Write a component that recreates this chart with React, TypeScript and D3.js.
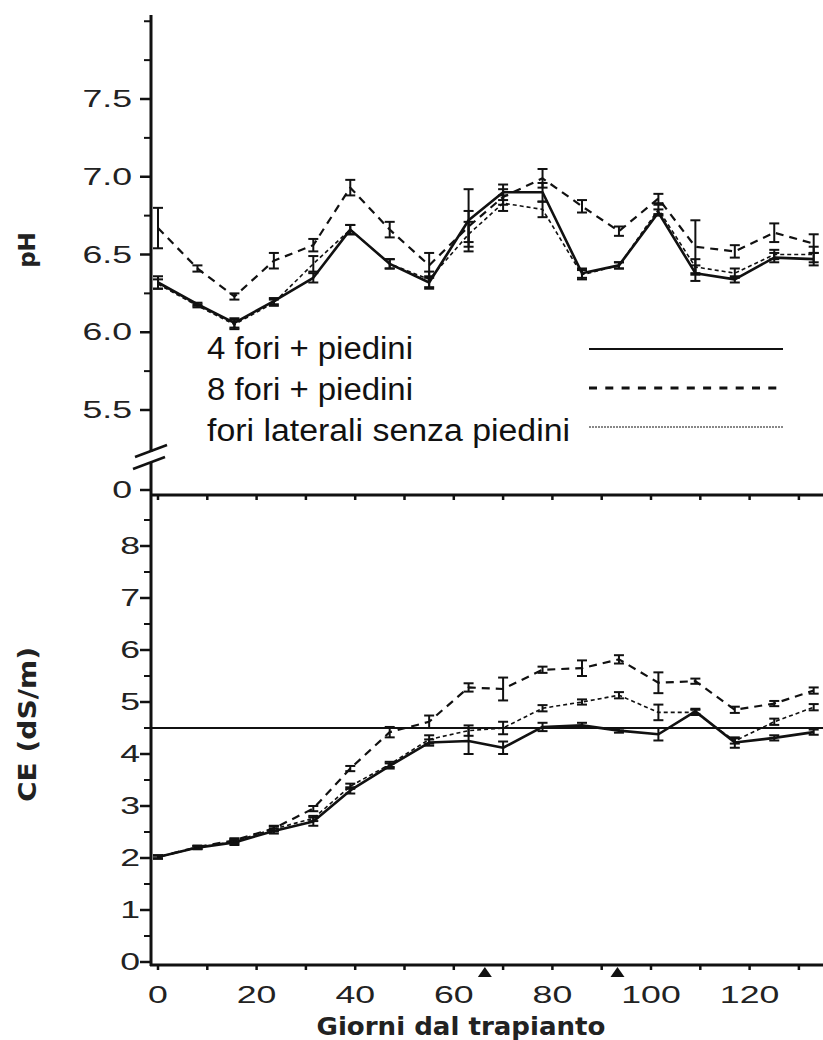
import React from 'react';
import * as d3 from 'd3';

// ---- data ----
const days = [0, 8, 15.5, 23.5, 31.5, 39, 47, 55, 63, 70, 78, 86, 93.5, 101.5, 109, 117, 125, 133];

const phFori4 = [6.32, 6.18, 6.06, 6.2, 6.35, 6.66, 6.44, 6.32, 6.72, 6.9, 6.9, 6.38, 6.43, 6.77, 6.38, 6.34, 6.48, 6.47];
const phFori4Err = [0.04, 0.01, 0.03, 0.02, 0.03, 0.03, 0.03, 0.04, 0.2, 0.05, 0.06, 0.03, 0.02, 0.02, 0.05, 0.02, 0.03, 0.04];
const phFori8 = [6.67, 6.41, 6.23, 6.46, 6.56, 6.93, 6.66, 6.43, 6.68, 6.87, 6.99, 6.81, 6.65, 6.86, 6.55, 6.52, 6.64, 6.57];
const phFori8Err = [0.13, 0.02, 0.02, 0.05, 0.04, 0.05, 0.05, 0.08, 0.1, 0.05, 0.06, 0.04, 0.03, 0.03, 0.17, 0.04, 0.06, 0.06];
const phLaterali = [6.31, 6.17, 6.05, 6.19, 6.44, 6.66, 6.44, 6.34, 6.63, 6.83, 6.79, 6.37, 6.43, 6.79, 6.42, 6.38, 6.5, 6.5];
const phLateraliErr = [0.03, 0.01, 0.03, 0.02, 0.05, 0.03, 0.03, 0.05, 0.08, 0.05, 0.05, 0.03, 0.02, 0.03, 0.05, 0.03, 0.03, 0.05];

const ceFori4 = [2.02, 2.2, 2.3, 2.52, 2.7, 3.3, 3.77, 4.22, 4.25, 4.12, 4.52, 4.55, 4.45, 4.38, 4.82, 4.22, 4.31, 4.42];
const ceFori4Err = [0.03, 0.03, 0.05, 0.05, 0.08, 0.06, 0.05, 0.06, 0.25, 0.12, 0.08, 0.05, 0.04, 0.12, 0.05, 0.1, 0.05, 0.05];
const ceFori8 = [2.02, 2.21, 2.34, 2.57, 2.95, 3.72, 4.42, 4.62, 5.28, 5.25, 5.62, 5.65, 5.82, 5.37, 5.4, 4.85, 4.97, 5.22];
const ceFori8Err = [0.03, 0.03, 0.04, 0.05, 0.05, 0.05, 0.1, 0.12, 0.08, 0.22, 0.06, 0.15, 0.08, 0.2, 0.05, 0.06, 0.05, 0.06];
const ceLaterali = [2.02, 2.2, 2.32, 2.56, 2.76, 3.38, 3.8, 4.28, 4.45, 4.5, 4.88, 5.0, 5.13, 4.8, 4.8, 4.25, 4.62, 4.9];
const ceLateraliErr = [0.03, 0.03, 0.04, 0.05, 0.05, 0.05, 0.05, 0.08, 0.1, 0.12, 0.06, 0.05, 0.06, 0.15, 0.05, 0.05, 0.06, 0.06];

const ceThreshold = 4.5;

const xTicks = [0, 20, 40, 60, 80, 100, 120];
const xMinorTicks = [10, 30, 50, 70, 90, 110, 130];
const phTicks = [5.5, 6.0, 6.5, 7.0, 7.5];
const phMinorTicks = [5.75, 6.25, 6.75, 7.25, 7.75, 8.0];
const ceTicks = [0, 1, 2, 3, 4, 5, 6, 7, 8];
const ceMinorTicks = [0.5, 1.5, 2.5, 3.5, 4.5, 5.5, 6.5, 7.5, 8.5];
const markerDays = [66.3, 93.2];

const legendLabels = ['4 fori + piedini', '8 fori + piedini', 'fori laterali senza piedini'];

const styles = [
  { width: 2.6, dash: 'none', legendWidth: 2, legendDash: 'none' },
  { width: 2.2, dash: '8,6', legendWidth: 3, legendDash: '8,8.3' },
  { width: 1.6, dash: '4,3', legendWidth: 1, legendDash: '2,1' },
];

const NUM_FONT = '"Liberation Sans", Arial, sans-serif';
const BOLD_FONT = '"DejaVu Sans", Verdana, sans-serif';

function Series({ vals, errs, x, y, style }: any) {
  const line = d3
    .line<number>()
    .x((_, i) => x(days[i]))
    .y((v) => y(v));
  return (
    <g>
      <path d={line(vals) || ''} fill="none" stroke="#111" strokeWidth={style.width} strokeDasharray={style.dash} strokeLinejoin="round" />
      {vals.map((v: number, i: number) => {
        const cx = x(days[i]);
        const y1 = y(v - errs[i]);
        const y2 = y(v + errs[i]);
        return (
          <g key={i} stroke="#111" strokeWidth={2}>
            <line x1={cx} x2={cx} y1={y1} y2={y2} />
            <line x1={cx - 5} x2={cx + 5} y1={y1} y2={y1} />
            <line x1={cx - 5} x2={cx + 5} y1={y2} y2={y2} />
          </g>
        );
      })}
    </g>
  );
}

function NumLabel({ x, y, text, anchor }: any) {
  return (
    <text
      transform={`translate(${x},${y}) scale(1.55,1)`}
      textAnchor={anchor}
      fontFamily={NUM_FONT}
      fontSize={23}
      fill="#222"
    >
      {text}
    </text>
  );
}

export default function App() {
  const W = 823;
  const H = 1040;
  const axisX = 151;
  const topPanelBottom = 495;
  const xAxisY = 965;

  const x = d3.scaleLinear().domain([0, 120]).range([158, 749.6]);
  const yPh = d3.scaleLinear().domain([5.5, 7.5]).range([410, 99]);
  const yCe = d3.scaleLinear().domain([0, 8]).range([962, 546]);

  const phSeries = [
    { vals: phFori4, errs: phFori4Err },
    { vals: phFori8, errs: phFori8Err },
    { vals: phLaterali, errs: phLateraliErr },
  ];
  const ceSeries = [
    { vals: ceFori4, errs: ceFori4Err },
    { vals: ceFori8, errs: ceFori8Err },
    { vals: ceLaterali, errs: ceLateraliErr },
  ];

  const legendBaselines = [359, 400, 441];
  const legendLineY = [349, 388, 427];
  const legendTextLen = [206, 206, 363];

  return (
    <svg width={W} height={H} style={{ position: 'absolute', left: 0, top: 0, background: '#fff' }}>
      <rect x={0} y={0} width={W} height={H} fill="#fff" />

      {/* Y axis line */}
      <line x1={axisX} x2={axisX} y1={15} y2={xAxisY + 1} stroke="#111" strokeWidth={3} />

      {/* axis break */}
      <rect x={axisX - 3} y={452} width={6} height={10} fill="#fff" />
      <line x1={135} y1={457} x2={167} y2={445} stroke="#111" strokeWidth={2.5} />
      <line x1={133} y1={469} x2={165} y2={457} stroke="#111" strokeWidth={2.5} />

      {/* pH ticks */}
      {phTicks.map((t) => (
        <g key={'ph' + t}>
          <line x1={axisX - 11} x2={axisX} y1={yPh(t)} y2={yPh(t)} stroke="#111" strokeWidth={2.5} />
          <NumLabel x={132} y={yPh(t) + 8} text={t.toFixed(1)} anchor="end" />
        </g>
      ))}
      {phMinorTicks.map((t) => (
        <line key={'phm' + t} x1={axisX - 7} x2={axisX} y1={yPh(t)} y2={yPh(t)} stroke="#111" strokeWidth={2} />
      ))}
      {/* zero label of broken pH axis */}
      <line x1={axisX - 11} x2={axisX} y1={490} y2={490} stroke="#111" strokeWidth={2.5} />
      <NumLabel x={132} y={498} text="0" anchor="end" />

      {/* top panel x axis */}
      <line x1={axisX} x2={W} y1={topPanelBottom} y2={topPanelBottom} stroke="#111" strokeWidth={3} />
      {[...xTicks, ...xMinorTicks].map((t) => (
        <line key={'tx' + t} x1={x(t)} x2={x(t)} y1={topPanelBottom} y2={topPanelBottom + 5} stroke="#111" strokeWidth={2.5} />
      ))}

      {/* CE ticks */}
      {ceTicks.map((t) => (
        <g key={'ce' + t}>
          <line x1={axisX - 11} x2={axisX} y1={yCe(t)} y2={yCe(t)} stroke="#111" strokeWidth={2.5} />
          <NumLabel x={140} y={yCe(t) + 8} text={String(t)} anchor="end" />
        </g>
      ))}
      {ceMinorTicks.map((t) => (
        <line key={'cem' + t} x1={axisX - 7} x2={axisX} y1={yCe(t)} y2={yCe(t)} stroke="#111" strokeWidth={2} />
      ))}

      {/* bottom x axis */}
      <line x1={axisX - 1} x2={W} y1={xAxisY} y2={xAxisY} stroke="#111" strokeWidth={3} />
      {[...xTicks, ...xMinorTicks].map((t) => (
        <line key={'bx' + t} x1={x(t)} x2={x(t)} y1={xAxisY} y2={xAxisY + 5} stroke="#111" strokeWidth={2.5} />
      ))}
      {xTicks.map((t) => (
        <NumLabel key={'bxl' + t} x={x(t)} y={1003} text={String(t)} anchor="middle" />
      ))}
      {markerDays.map((d) => {
        const cx = x(d);
        return <path key={'m' + d} d={`M${cx},${xAxisY + 2} L${cx - 7},${xAxisY + 12} L${cx + 7},${xAxisY + 12} Z`} fill="#111" />;
      })}

      {/* threshold line */}
      <line x1={axisX} x2={W} y1={yCe(ceThreshold)} y2={yCe(ceThreshold)} stroke="#111" strokeWidth={2.2} />

      {/* series */}
      {phSeries.map((s, i) => (
        <Series key={'phs' + i} vals={s.vals} errs={s.errs} x={x} y={yPh} style={styles[i]} />
      ))}
      {ceSeries.map((s, i) => (
        <Series key={'ces' + i} vals={s.vals} errs={s.errs} x={x} y={yCe} style={styles[i]} />
      ))}

      {/* legend */}
      {legendLabels.map((l, i) => (
        <g key={'lg' + i}>
          <text
            x={207}
            y={legendBaselines[i]}
            fontFamily={NUM_FONT}
            fontSize={31}
            fill="#111"
            textLength={legendTextLen[i]}
            lengthAdjust="spacingAndGlyphs"
          >
            {l}
          </text>
          <line
            x1={589}
            x2={783}
            y1={legendLineY[i]}
            y2={legendLineY[i]}
            stroke="#111"
            strokeWidth={styles[i].legendWidth}
            strokeDasharray={styles[i].legendDash}
          />
        </g>
      ))}

      {/* axis titles */}
      <text
        transform="translate(35,250) rotate(-90)"
        textAnchor="middle"
        fontFamily={BOLD_FONT}
        fontWeight="bold"
        fontSize={23}
        fill="#222"
      >
        pH
      </text>
      <text
        transform="translate(36,724.5) rotate(-90)"
        textAnchor="middle"
        fontFamily={BOLD_FONT}
        fontWeight="bold"
        fontSize={24}
        fill="#222"
        textLength={155}
        lengthAdjust="spacingAndGlyphs"
      >
        CE (dS/m)
      </text>
      <text
        x={461}
        y={1035}
        textAnchor="middle"
        fontFamily={BOLD_FONT}
        fontWeight="bold"
        fontSize={25}
        fill="#222"
        textLength={289}
        lengthAdjust="spacingAndGlyphs"
      >
        Giorni dal trapianto
      </text>
    </svg>
  );
}
